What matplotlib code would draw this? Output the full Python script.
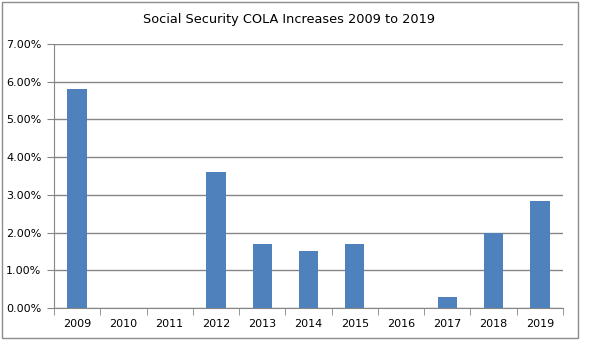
import matplotlib
matplotlib.use("Agg")
import matplotlib.pyplot as plt
from matplotlib.ticker import FuncFormatter, FixedLocator
from matplotlib.patches import Rectangle

years = ["2009", "2010", "2011", "2012", "2013", "2014", "2015", "2016", "2017", "2018", "2019"]
cola = [5.8, 0.0, 0.0, 3.6, 1.7, 1.5, 1.7, 0.0, 0.3, 2.0, 2.85]
title = "Social Security COLA Increases 2009 to 2019"

W, H = 589, 351
fig = plt.figure(figsize=(W / 100, H / 100), dpi=100)
fig.patch.set_facecolor("white")

# outer chart border
fig.patches.append(Rectangle((2 / W, 1 - 338 / H), 576 / W, 336 / H, transform=fig.transFigure,
                             fill=False, edgecolor="#8c8c8c", linewidth=1.0))

left, right, top, bottom = 54, 563, 44, 308
ax = fig.add_axes([left / W, 1 - bottom / H, (right - left) / W, (bottom - top) / H])

x = list(range(len(years)))
ax.bar(x, cola, width=0.42, color="#4F81BD", zorder=3)
ax.set_xlim(-0.5, len(years) - 0.5)
ax.set_ylim(0, 7)
ax.set_yticks([0, 1, 2, 3, 4, 5, 6, 7])
ax.yaxis.set_major_formatter(FuncFormatter(lambda v, p: f"{v:.2f}%"))
ax.yaxis.grid(True, color="#868686", linewidth=1.0, zorder=0)
ax.set_xticks(x)
ax.set_xticklabels(years)
ax.xaxis.set_minor_locator(FixedLocator([i - 0.5 for i in range(len(years) + 1)]))
ax.tick_params(axis="x", which="major", length=0, pad=8, labelsize=8, colors="black")
ax.tick_params(axis="x", which="minor", length=5, color="#868686", direction="out")
ax.tick_params(axis="y", length=5, color="#868686", labelsize=8, pad=4)
for s in ["top", "right"]:
    ax.spines[s].set_visible(False)
for s in ["left", "bottom"]:
    ax.spines[s].set_color("#868686")

fig.text(289 / W, 1 - 20 / H, title, ha="center", va="center", fontsize=9.3)

fig.savefig("out.png", dpi=100)
